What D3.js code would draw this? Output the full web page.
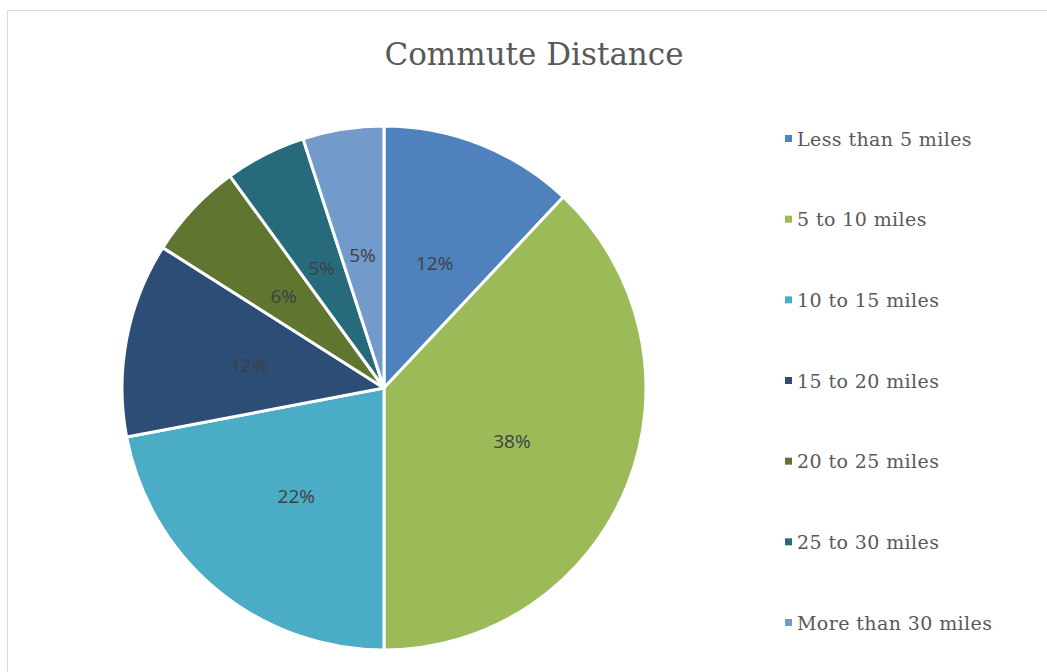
<!DOCTYPE html>
<html>
<head>
<meta charset="utf-8">
<script src="https://cdn.jsdelivr.net/npm/d3@7"></script>
<style>
  html, body { margin: 0; padding: 0; background: #fff; }
  svg { display: block; }
</style>
</head>
<body>
<svg id="chart" width="1047" height="672"></svg>
<script>
const categories = ["Less than 5 miles", "5 to 10 miles", "10 to 15 miles", "15 to 20 miles", "20 to 25 miles", "25 to 30 miles", "More than 30 miles"];
const values = [12, 38, 22, 12, 6, 5, 5];
const colors = ["#4f81bd", "#9bbb59", "#4bacc6", "#2c4d75", "#5f7530", "#276a7c", "#729aca"];
const title = "Commute Distance";

const svg = d3.select("#chart");

// chart frame
svg.append("rect").attr("x", 7.5).attr("y", 10.5).attr("width", 1046).attr("height", 680)
  .attr("fill", "#fff").attr("stroke", "#d9d9d9").attr("stroke-width", 1);

svg.append("text").attr("x", 534).attr("y", 65).attr("text-anchor", "middle")
  .attr("font-family", "'DejaVu Serif', 'Liberation Serif', serif").attr("font-size", 31)
  .attr("fill", "#595959").text(title);

const cx = 384, cy = 388, R = 262;
const data = categories.map((c, i) => ({ cat: c, value: values[i], color: colors[i] }));
const pie = d3.pie().sort(null).value(d => d.value);
const arcs = pie(data);
const arc = d3.arc().innerRadius(0).outerRadius(R);
const labelArc = d3.arc().innerRadius(R * 1.05).outerRadius(R * 1.05);

const g = svg.append("g").attr("transform", `translate(${cx},${cy})`);
g.selectAll("path").data(arcs).join("path")
  .attr("d", arc).attr("fill", d => d.data.color)
  .attr("stroke", "#fff").attr("stroke-width", 3).attr("stroke-linejoin", "round");

const fmt = d3.format(".0%");
const total = d3.sum(values);
g.selectAll("text.lbl").data(arcs).join("text").attr("class", "lbl")
  .attr("transform", d => `translate(${labelArc.centroid(d).map(v => v / 2)})`)
  .attr("text-anchor", "middle").attr("dy", "0.5em")
  .attr("font-family", "'Open Sans', 'Liberation Sans', sans-serif").attr("font-size", 19)
  .attr("fill", "#404040").text(d => fmt(d.data.value / total));

// legend
const legY = d3.scalePoint().domain(categories).range([139, 623]);
const leg = svg.append("g");
const items = leg.selectAll("g").data(data).join("g")
  .attr("transform", d => `translate(785,${legY(d.cat)})`);
items.append("rect").attr("x", 0).attr("y", -4).attr("width", 7).attr("height", 7).attr("fill", d => d.color);
items.append("text").attr("x", 12).attr("dy", "0.35em")
  .attr("font-family", "'DejaVu Serif', 'Liberation Serif', serif").attr("font-size", 19)
  .attr("letter-spacing", 0.4)
  .attr("fill", "#595959").text(d => d.cat);
</script>
</body>
</html>
